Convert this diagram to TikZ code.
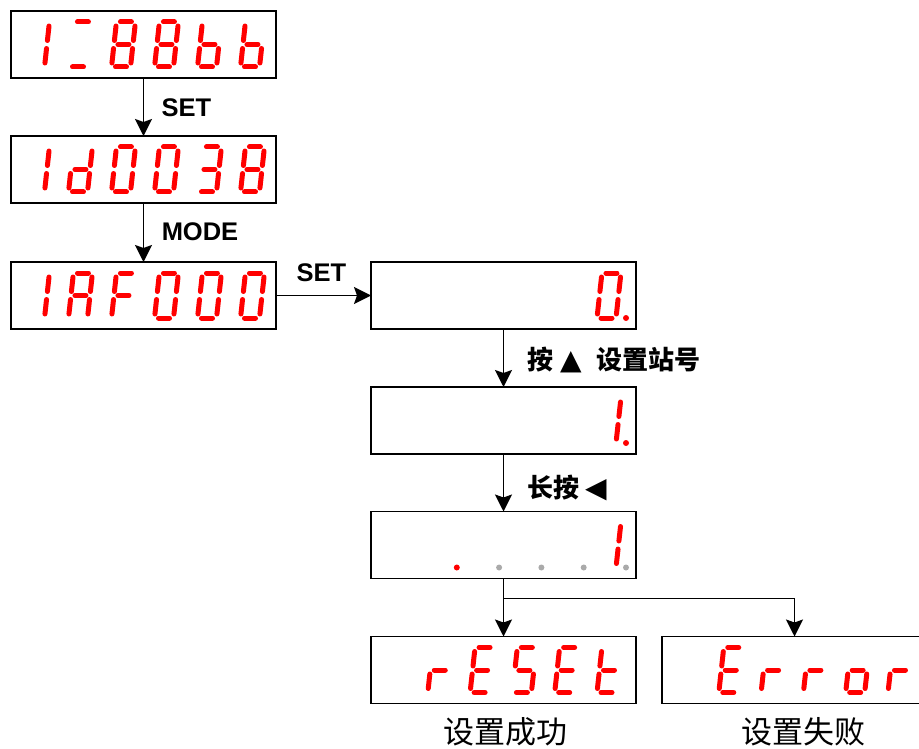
\documentclass[tikz,border=0pt]{standalone}
\usepackage{fontspec}
\setmainfont{Liberation Sans}
\newfontfamily\cjk{Noto Sans CJK SC}
\newfontfamily\symf{DejaVu Sans}
\usetikzlibrary{arrows.meta,calc}

\definecolor{segred}{RGB}{255,0,0}
\definecolor{seggrey}{RGB}{170,170,170}

% seven segments of one digit cell (slanted), plus decimal point
\newcommand{\sega}{\draw[seg] (4,45)--(15,45);}
\newcommand{\segb}{\draw[seg] (19,41)--(19,26.5);}
\newcommand{\segc}{\draw[seg] (19,18.5)--(19,4);}
\newcommand{\segd}{\draw[seg] (4,0)--(15,0);}
\newcommand{\sege}{\draw[seg] (0,4)--(0,18.5);}
\newcommand{\segf}{\draw[seg] (0,26.5)--(0,41);}
\newcommand{\segg}{\draw[seg] (4,22.5)--(15,22.5);}
\newcommand{\segp}{\fill[segred] (29,0) circle (3pt);}
\newcommand{\segq}{\fill[seggrey] (29,0) circle (3pt);}
\newcommand{\segrun}[1]{\ifx#1\relax\else\csname seg#1\endcsname\expandafter\segrun\fi}
% #1 box, #2 digit pitch, #3 list of index/segments
\newcommand{\showdigits}[3]{%
  \foreach \i/\s in {#3}{%
    \begin{scope}[shift={($(#1.south west)+(14.5+#2*\i,-11)$)},x={(1pt,0pt)},y={(0.11pt,1pt)}]
      \expandafter\segrun\s\relax
    \end{scope}}}

\begin{document}
\begin{tikzpicture}[x=1pt,y=-1pt,
  dispbox/.style={draw,line width=1.9pt,minimum width=265pt,minimum height=67pt,inner sep=0pt,outer sep=0pt},
  seg/.style={segred,line width=5pt,line cap=round},
  arr/.style={-{Stealth[length=17pt,width=17pt,inset=3pt]},line width=1.8pt},
  keylab/.style={font=\bfseries\fontsize{25.5}{28}\selectfont,inner sep=0pt},
  cjklab/.style={font=\cjk\bfseries\fontsize{26}{28}\selectfont,anchor=west,inner sep=0pt},
  capt/.style={font=\cjk\fontsize{31}{34}\selectfont,inner sep=0pt}]
\useasboundingbox (0,0) rectangle (919,749);

\node[dispbox] (b1) at (143.5,44.5) {};
\node[dispbox] (b2) at (143.5,169.5) {};
\node[dispbox] (b3) at (143.5,295.5) {};
\node[dispbox] (b4) at (503.5,295.5) {};
\node[dispbox] (b5) at (503.5,420.5) {};
\node[dispbox] (b6) at (503.5,545) {};
\node[dispbox] (b7) at (503.5,670) {};
\node[dispbox] (b8) at (794.5,670) {};

\showdigits{b1}{43}{0/bc,1/ad,2/abcdefg,3/abcdefg,4/cdefg,5/cdefg}
\showdigits{b2}{43}{0/bc,1/bcdeg,2/abcdef,3/abcdef,4/abcdg,5/abcdefg}
\showdigits{b3}{43}{0/bc,1/abcefg,2/aefg,3/abcdef,4/abcdef,5/abcdef}
\showdigits{b4}{42.3}{5/abcdefp}
\showdigits{b5}{42.3}{5/bcp}
\showdigits{b6}{42.3}{1/p,2/q,3/q,4/q,5/bcq}
\showdigits{b7}{42.3}{1/eg,2/adefg,3/acdfg,4/adefg,5/defg}
\showdigits{b8}{42.3}{1/adefg,2/eg,3/eg,4/cdeg,5/eg}

\draw[arr] (b1) -- (b2);
\draw[arr] (b2) -- (b3);
\draw[arr] (b3) -- (b4);
\draw[arr] (b4) -- (b5);
\draw[arr] (b5) -- (b6);
\draw[arr] (b6) -- (b7);
\draw[arr] ($(b6.south)+(0,20)$) -| (b8.north);

\node[keylab] (kset) at (186.5,107.5) {SET};
\node[keylab] (kmode) at (200,232) {MODE};
\node[keylab] (kset2) at (321.5,273) {SET};
\node[cjklab] (kup) at (527,360) {按\hspace{7pt}{\symf\fontsize{28}{28}\selectfont ▲}\hspace{15pt}设置站号};
\node[cjklab] (kleft) at (527,488) {长按\hspace{6pt}{\symf\fontsize{28}{28}\selectfont ◀}};
\node[capt] (cok) at (505,732) {设置成功};
\node[capt] (cfail) at (803,732) {设置失败};
\end{tikzpicture}
\end{document}
